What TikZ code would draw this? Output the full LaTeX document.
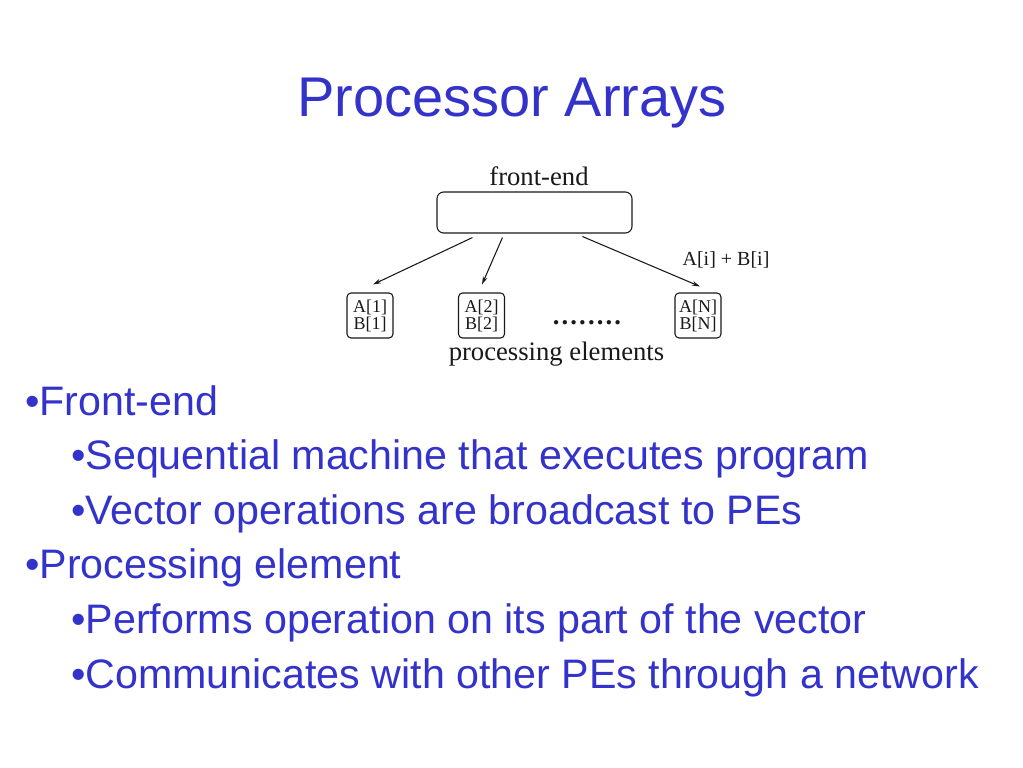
\documentclass[tikz,border=0pt]{standalone}
\usepackage{fontspec}
\setmainfont{Liberation Sans}
\newfontfamily\diagserif{Liberation Serif}
\usetikzlibrary{arrows.meta,calc}
\definecolor{slideblue}{RGB}{51,51,204}
\definecolor{lineink}{RGB}{25,25,25}
\begin{document}
\begin{tikzpicture}[x=0.75pt,y=-0.75pt,
  titletext/.style={font=\fontsize{42}{50}\selectfont, text=slideblue, inner sep=0, anchor=base},
  bullettext/.style={font=\fontsize{30.9}{37}\selectfont, text=slideblue, inner sep=0, anchor=base west},
  diaglabel/.style={font=\diagserif\fontsize{20}{24}\selectfont, text=lineink, inner sep=0, anchor=base},
  pebox/.style={draw=lineink, line width=0.8pt, rounded corners=3pt, minimum width=34.5pt, minimum height=33.75pt, inner sep=0, align=center, font=\diagserif\fontsize{13.5}{12.75}\selectfont, text=lineink},
  febox/.style={draw=lineink, line width=0.8pt, rounded corners=5pt, minimum width=146.25pt, minimum height=30.75pt, inner sep=0},
  arr/.style={draw=lineink, line width=0.8pt, -{Stealth[length=6pt,width=3.5pt]}}
]
\useasboundingbox (0,0) rectangle (1023,767);
\fill[white] (0,0) rectangle (1023,767);

\node[titletext] (title) at (512,116) {Processor Arrays};

% diagram
\node[diaglabel] (felabel) at (539,185) {front-end};
\node[febox] (fe) at (534.5,212.5) {};
\node[pebox] (pe1) at (370,315.5) {A[1]\\B[1]};
\node[pebox] (pe2) at (481.5,315.5) {A[2]\\B[2]};
\node[pebox] (peN) at (698,315.5) {A[N]\\B[N]};
\node[diaglabel, font=\diagserif\bfseries\fontsize{20}{24}\selectfont\addfontfeature{LetterSpace=8}] (dots) at (587,324) {........};
\node[diaglabel] (pelabel) at (556.5,360) {processing elements};
\node[diaglabel, font=\diagserif\fontsize{15}{18}\selectfont] (op) at (726,265) {A[i] + B[i]};

\draw[arr] ($(fe.south west)+(36,4)$) -- ($(pe1.north)+(3,-8)$);
\draw[arr] ($(fe.south west)+(66,4)$) -- ($(pe2.north)+(0.5,-8)$);
\draw[arr] ($(fe.south west)+(146,3)$) -- ($(peN.north)+(2,-6)$);

% bullets
\node[bullettext] (b1) at (25,415) {•Front-end};
\node[bullettext] (b2) at (71,469.6) {•Sequential machine that executes program};
\node[bullettext] (b3) at (71,524.2) {•Vector operations are broadcast to PEs};
\node[bullettext] (b4) at (25,578.8) {•Processing element};
\node[bullettext] (b5) at (71,633.4) {•Performs operation on its part of the vector};
\node[bullettext] (b6) at (71,688) {•Communicates with other PEs through a network};
\end{tikzpicture}
\end{document}
